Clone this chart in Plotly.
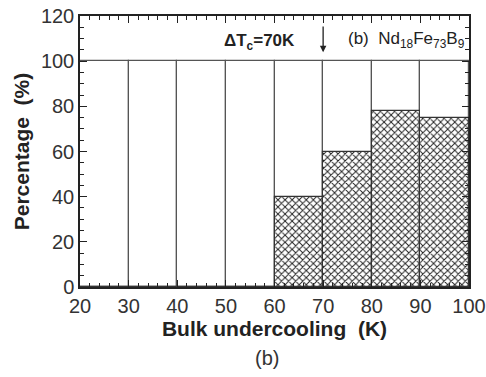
import plotly.graph_objects as go

bin_centers = [25, 35, 45, 55, 65, 75, 85, 95]
total_pct = [100, 100, 100, 100, 100, 100, 100, 100]
hatched_pct = [0, 0, 0, 0, 40, 60, 78, 75]
x_ticks = [20, 30, 40, 50, 60, 70, 80, 90, 100]
y_ticks = [0, 20, 40, 60, 80, 100, 120]

FONT = "Liberation Sans, Arial"
NB = "\u00a0"

fig = go.Figure()
fig.add_trace(go.Bar(
    x=bin_centers, y=total_pct, width=10,
    marker=dict(color="white", line=dict(color="#555", width=1.2)),
    showlegend=False, hoverinfo="skip"))
fig.add_trace(go.Bar(
    x=bin_centers, y=hatched_pct, width=10,
    marker=dict(color="white", line=dict(color="#333", width=1.2),
                pattern=dict(shape="x", fgcolor="#222", bgcolor="white",
                             size=5, solidity=0.35, fillmode="replace")),
    showlegend=False, hoverinfo="skip"))

axis_common = dict(
    showgrid=False, zeroline=False, showline=True, linecolor="#222", linewidth=1.5,
    mirror="allticks", ticks="inside", ticklen=7, tickwidth=1.3, tickcolor="#222",
    tickfont=dict(family=FONT, size=20, color="#333"), automargin=False,
)
fig.update_xaxes(range=[20, 100], tickvals=x_ticks,
                 minor=dict(dtick=2, ticks="inside", ticklen=4, tickcolor="#222"),
                 title=dict(text="<b>Bulk undercooling" + NB + NB + "(K)</b>", standoff=0,
                            font=dict(family=FONT, size=21, color="#222")),
                 **axis_common)
fig.update_yaxes(range=[0, 120], tickvals=y_ticks,
                 minor=dict(dtick=5, ticks="inside", ticklen=4, tickcolor="#222"),
                 title=dict(text="<b>Percentage" + NB + NB + "(%)</b>", standoff=6,
                            font=dict(family=FONT, size=21, color="#222")),
                 **axis_common)

fig.add_annotation(x=64.6, y=108.5, xref="x", yref="y", xanchor="right",
                   text="<b>ΔT<sub>c</sub>=70K</b>", showarrow=False,
                   font=dict(family=FONT, size=17, color="#222"))
fig.add_annotation(x=70, y=104, ax=70, ay=116, xref="x", yref="y", axref="x", ayref="y",
                   text="", showarrow=True, arrowhead=2, arrowsize=1, arrowwidth=1.3,
                   arrowcolor="#222")
fig.add_annotation(x=99.6, y=109.5, xref="x", yref="y", xanchor="right",
                   text="(b)" + NB + NB + "Nd<sub>18</sub>Fe<sub>73</sub>B<sub>9</sub>", showarrow=False,
                   font=dict(family=FONT, size=17, color="#222"))
fig.add_annotation(x=0.48, y=-0.262, xref="paper", yref="paper", yanchor="middle",
                   text="(b)", showarrow=False,
                   font=dict(family=FONT, size=20, color="#333"))

fig.update_layout(
    width=486, height=377, barmode="overlay", bargap=0,
    plot_bgcolor="white", paper_bgcolor="white",
    margin=dict(l=80, r=17, t=16, b=90),
)
fig.write_html("out.html", config={"displayModeBar": False},
               post_script="document.body.style.margin='0';document.body.style.overflow='hidden';")
